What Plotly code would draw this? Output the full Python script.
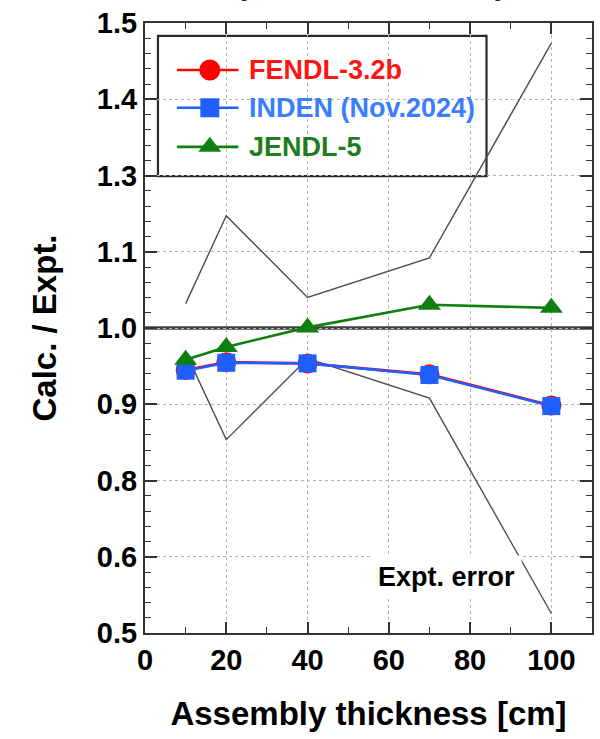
import plotly.graph_objects as go

# Assembly thickness [cm]
thickness = [10, 20, 40, 70, 100]

# C/E values per library
fendl = [0.931, 0.944, 0.942, 0.924, 0.873]
inden = [0.930, 0.943, 0.942, 0.923, 0.872]
jendl = [0.948, 0.969, 1.001, 1.038, 1.033]

# Experimental uncertainty envelope
expt_upper = [1.040, 1.184, 1.050, 1.115, 1.467]
expt_lower = [0.960, 0.817, 0.950, 0.885, 0.532]

series_names = ["FENDL-3.2b", "INDEN (Nov.2024)", "JENDL-5"]
line_colors = ["#ff0000", "#1f5fff", "#0f7f0f"]
text_colors = ["#ff1414", "#3a7dff", "#1e7d1e"]
symbols = ["circle", "square", "triangle-up"]
marker_sizes = [20, 18, 20]
legend_marker_sizes = [21, 19, 20]

FONT = "Liberation Sans, Arial, sans-serif"
AXIS = "#333333"

fig = go.Figure()

# experimental error band edges
for ys in (expt_upper, expt_lower):
    fig.add_trace(go.Scatter(
        x=thickness, y=ys, mode="lines",
        line=dict(color="#4d4d4d", width=1.4),
        showlegend=False, hoverinfo="skip",
    ))

# library results (green drawn last so it sits on top)
for name, ys, col, sym, ms in [
    (series_names[0], fendl, line_colors[0], symbols[0], marker_sizes[0]),
    (series_names[1], inden, line_colors[1], symbols[1], marker_sizes[1]),
    (series_names[2], jendl, line_colors[2], symbols[2], marker_sizes[2]),
]:
    fig.add_trace(go.Scatter(
        x=thickness, y=ys, mode="lines+markers", name=name,
        line=dict(color=col, width=2.6),
        marker=dict(symbol=sym, size=ms, color=col, line=dict(width=0)),
        showlegend=False,
    ))

# C/E = 1 reference line
fig.add_shape(type="line", xref="paper", x0=0, x1=1, yref="y", y0=1.0, y1=1.0,
              line=dict(color="#3f3f3f", width=3.5), layer="between")

# legend frame
fig.add_shape(type="rect", xref="paper", yref="paper",
              x0=0.029, x1=0.764, y0=0.749, y1=0.979,
              line=dict(color="#2a2a2a", width=2.2), fillcolor="white", layer="between")

# legend keys on an overlay axis spanning the plot area in [0, 1]
key_rows = [0.923, 0.861, 0.797]
key_x0, key_xm, key_x1 = 0.0713, 0.145, 0.209
for i in range(3):
    fig.add_trace(go.Scatter(
        x=[key_x0, key_x1], y=[key_rows[i], key_rows[i]], mode="lines",
        line=dict(color=line_colors[i], width=2.6),
        xaxis="x2", yaxis="y2", showlegend=False, hoverinfo="skip",
    ))
    fig.add_trace(go.Scatter(
        x=[key_xm], y=[key_rows[i]], mode="markers",
        marker=dict(symbol=symbols[i], size=legend_marker_sizes[i],
                    color=line_colors[i], line=dict(width=0)),
        xaxis="x2", yaxis="y2", showlegend=False, hoverinfo="skip",
    ))
    fig.add_annotation(
        xref="paper", yref="paper", x=0.229, y=key_rows[i],
        xanchor="left", yanchor="middle", showarrow=False,
        text=series_names[i],
        font=dict(family=FONT, size=27, color=text_colors[i], weight="bold"),
    )

# error envelope label
fig.add_annotation(
    xref="paper", yref="paper", x=0.675, y=0.092,
    xanchor="center", yanchor="middle", showarrow=False,
    text="Expt. error", bgcolor="white", borderpad=6,
    font=dict(family=FONT, size=27, color="black", weight="bold"),
)

# title brackets running off the top edge
for bx, br in [(0.216, "("), (0.795, ")")]:
    fig.add_annotation(
        xref="paper", yref="paper", x=bx, y=1.033,
        xanchor="center", yanchor="bottom", showarrow=False,
        text=br, font=dict(family=FONT, size=32, color="#0b2a6b", weight="bold"),
    )

tick_font = dict(family=FONT, size=29, color="black", weight="bold")
title_font = dict(family=FONT, size=33, color="black", weight="bold")

fig.update_layout(
    width=600, height=739,
    margin=dict(l=145, r=6, t=23, b=106),
    paper_bgcolor="white", plot_bgcolor="white",
    showlegend=False,
    xaxis=dict(
        range=[0, 110], tick0=0, dtick=20,
        ticks="inside", ticklen=11, tickwidth=1.5, tickcolor=AXIS,
        showline=True, linecolor=AXIS, linewidth=2, mirror="ticks",
        showgrid=True, gridcolor="#b3b3b3", griddash="dot", gridwidth=1,
        zeroline=False,
        minor=dict(dtick=10, ticks="inside", ticklen=6, tickwidth=1.2,
                   tickcolor=AXIS, showgrid=False),
        tickfont=tick_font,
        title=dict(text="Assembly thickness [cm]", font=title_font, standoff=27),
    ),
    yaxis=dict(
        range=[0.5, 1.5], tick0=0.5, dtick=0.125, tickformat=".1f",
        ticks="inside", ticklen=12, tickwidth=1.5, tickcolor=AXIS,
        showline=True, linecolor=AXIS, linewidth=2, mirror="ticks",
        showgrid=True, gridcolor="#b3b3b3", griddash="dot", gridwidth=1,
        zeroline=False,
        minor=dict(dtick=0.025, ticks="inside", ticklen=6, tickwidth=1.2,
                   tickcolor=AXIS, showgrid=False),
        tickfont=tick_font,
        title=dict(text="Calc. / Expt.", font=title_font, standoff=30),
    ),
    xaxis2=dict(overlaying="x", range=[0, 1], visible=False, fixedrange=True),
    yaxis2=dict(overlaying="y", range=[0, 1], visible=False, fixedrange=True),
)

fig.write_html("out.html")
